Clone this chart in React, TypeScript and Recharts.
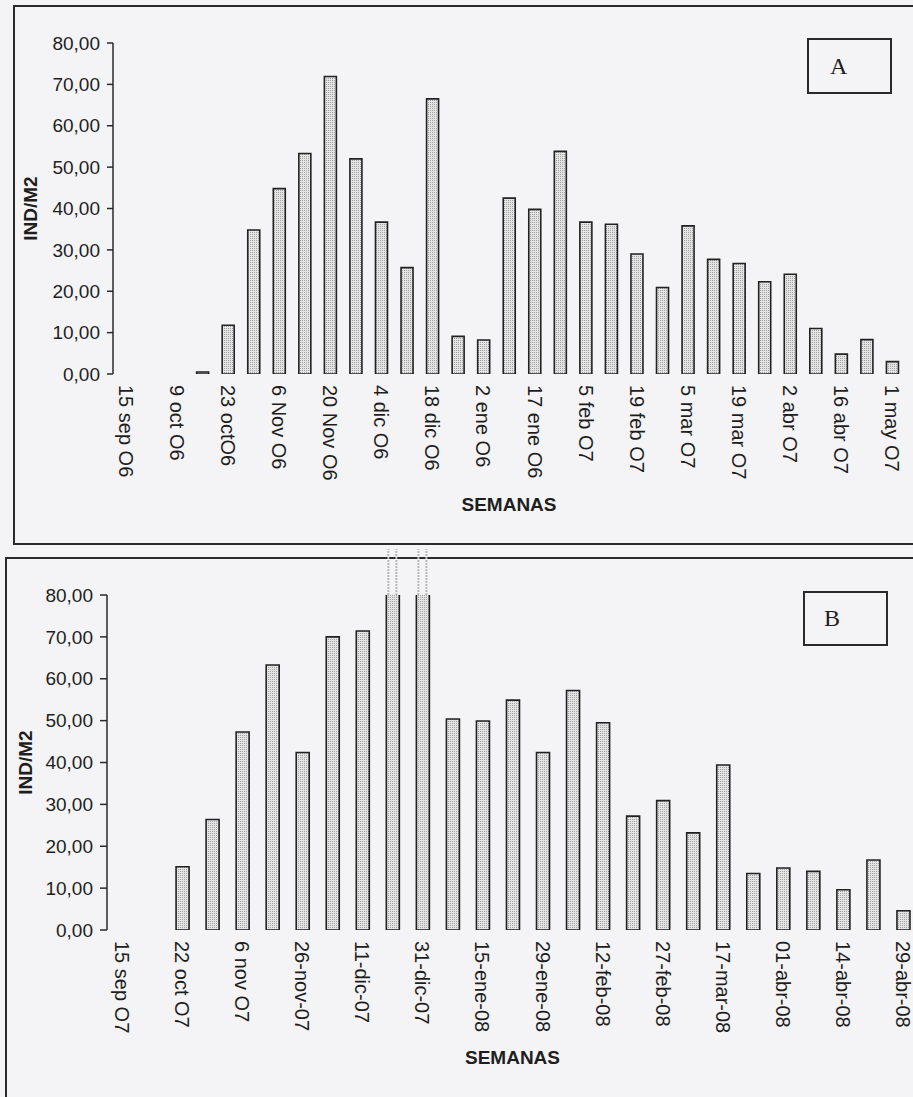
import React from 'react';
import { BarChart, Bar, XAxis, YAxis, ReferenceLine } from 'recharts';

// semanas muestreadas (solo se rotula una de cada dos)
const weeksA = [
  '15 sep O6', '', '9 oct O6', '', '23 octO6', '', '6 Nov O6', '', '20 Nov O6', '',
  '4 dic O6', '', '18 dic O6', '', '2 ene O6', '', '17 ene O6', '', '5 feb O7', '',
  '19 feb O7', '', '5 mar O7', '', '19 mar O7', '', '2 abr O7', '', '16 abr O7', '',
  '1 may O7',
];
const indA = [
  0, 0, 0, 0.5, 11.8, 34.8, 44.8, 53.3, 71.9, 52.0,
  36.7, 25.7, 66.5, 9.1, 8.2, 42.5, 39.8, 53.8, 36.7, 36.2,
  29.0, 20.9, 35.8, 27.7, 26.7, 22.3, 24.1, 11.0, 4.8, 8.3,
  3.0,
];

const weeksB = [
  '15 sep O7', '', '22 oct O7', '', '6 nov O7', '', '26-nov-07', '', '11-dic-07', '',
  '31-dic-07', '', '15-ene-08', '', '29-ene-08', '', '12-feb-08', '', '27-feb-08', '',
  '17-mar-08', '', '01-abr-08', '', '14-abr-08', '', '29-abr-08',
];
const indB = [
  0, 0, 15.1, 26.4, 47.3, 63.3, 42.4, 70.0, 71.4, 91,
  91, 50.4, 49.9, 54.9, 42.4, 57.2, 49.5, 27.2, 30.9, 23.2,
  39.4, 13.5, 14.8, 14.0, 9.6, 16.7, 4.6,
];
// barras que se salen de la escala en B
const clippedB = [9, 10];

const yTicks = [0, 10, 20, 30, 40, 50, 60, 70, 80];

const FONT = '"Liberation Sans", Arial, sans-serif';
const INK = '#1e1e1e';
const LINE = '#2a2a2a';

const fmt = (v: number) => v.toFixed(2).replace('.', ',');

const WeekTick = (props: any) => {
  const { x, y, payload, labels } = props;
  const t = labels[payload.value];
  if (!t) return null;
  return (
    <text
      x={x}
      y={y}
      dx={11}
      transform={`rotate(90 ${x} ${y})`}
      textAnchor="start"
      dominantBaseline="central"
      fontSize={20}
      fontFamily={FONT}
      fill={INK}
    >
      {t}
    </text>
  );
};

const yTitle = (cx: number) => (p: any) => {
  const vb = p.viewBox || {};
  const cy = vb.y + vb.height / 2;
  return (
    <text
      x={cx}
      y={cy}
      transform={`rotate(-90 ${cx} ${cy})`}
      textAnchor="middle"
      dominantBaseline="central"
      fontSize={19}
      fontWeight="bold"
      fontFamily={FONT}
      fill={INK}
    >
      IND/M2
    </text>
  );
};

// prolongacion de las barras cortadas por encima de 80
const OverflowTop = (p: any) => {
  const { x1, y1, x2, y2 } = p;
  return (
    <g>
      <line x1={x1 - 4} y1={y1} x2={x2 - 4} y2={y2} stroke="#b9b9b9" strokeWidth={2} strokeDasharray="2 1" />
      <line x1={x1 + 4} y1={y1} x2={x2 + 4} y2={y2} stroke="#b9b9b9" strokeWidth={2} strokeDasharray="2 1" />
    </g>
  );
};

type PanelProps = {
  labels: string[];
  values: number[];
  width: number;
  height: number;
  margin: { top: number; right: number; left: number; bottom: number };
  yWidth: number;
  xHeight: number;
  barSize: number;
  titleX: number;
  semanasOffset: number;
  tickSize: number;
  clipped?: number[];
};

function Panel(p: PanelProps) {
  const rows = p.values.map((v, i) => ({ n: i, ind: v }));
  const edges = [...p.labels.map((_, i) => i), p.labels.length];
  return (
    <BarChart width={p.width} height={p.height} data={rows} margin={p.margin}>
      <XAxis
        xAxisId="edge"
        type="number"
        domain={[0, p.labels.length]}
        ticks={edges}
        allowDataOverflow
        interval={0}
        tick={false}
        tickSize={6}
        height={0}
        stroke={LINE}
        strokeWidth={1.5}
      />
      <XAxis
        xAxisId="week"
        dataKey="n"
        type="category"
        interval={0}
        tickLine={false}
        axisLine={false}
        tickSize={0}
        tickMargin={0}
        height={p.xHeight}
        tick={(t: any) => <WeekTick {...t} labels={p.labels} />}
        label={{
          value: 'SEMANAS',
          position: 'insideBottom',
          offset: p.semanasOffset,
          fontSize: 19,
          fontWeight: 'bold',
          fontFamily: FONT,
          fill: INK,
        }}
      />
      <YAxis
        domain={[0, 80]}
        ticks={yTicks}
        allowDataOverflow
        interval={0}
        width={p.yWidth}
        tickSize={p.tickSize}
        tickMargin={7}
        tickFormatter={fmt}
        tick={{ fontSize: 19, fill: INK, fontFamily: FONT }}
        stroke={LINE}
        strokeWidth={1.5}
        label={{ content: yTitle(p.titleX) }}
      />
      <Bar
        xAxisId="week"
        dataKey="ind"
        barSize={p.barSize}
        fill="url(#stipple)"
        stroke="#222"
        strokeWidth={1.6}
        isAnimationActive={false}
      />
      {(p.clipped || []).map((i) => (
        <ReferenceLine
          key={i}
          xAxisId="week"
          segment={[{ x: i, y: 80 }, { x: i, y: p.values[i] }]}
          ifOverflow="visible"
          shape={OverflowTop}
        />
      ))}
    </BarChart>
  );
}

const boxStyle: React.CSSProperties = {
  position: 'absolute',
  boxSizing: 'border-box',
  border: `2px solid ${LINE}`,
  fontFamily: '"Liberation Serif", "Times New Roman", serif',
  fontSize: 24,
  color: INK,
};

export default function App() {
  return (
    <div
      style={{
        position: 'absolute',
        left: 0,
        top: 0,
        width: 913,
        height: 1097,
        overflow: 'hidden',
        background: '#f4f4f6',
        fontFamily: FONT,
      }}
    >
      <svg width={0} height={0} style={{ position: 'absolute' }}>
        <defs>
          <pattern id="stipple" width={2} height={2} patternUnits="userSpaceOnUse">
            <rect width={2} height={2} fill="#e4e4e4" />
            <rect width={1} height={1} fill="#a2a2a2" />
          </pattern>
        </defs>
      </svg>

      {/* marcos de los dos paneles */}
      <div style={{ position: 'absolute', boxSizing: 'border-box', left: 13, top: 5, width: 1000, height: 540, border: `2px solid ${LINE}` }} />
      <div style={{ position: 'absolute', boxSizing: 'border-box', left: 5, top: 557, width: 1000, height: 600, border: `2px solid ${LINE}` }} />

      <div style={{ position: 'absolute', left: 0, top: 0 }}>
        <Panel
          labels={weeksA}
          values={indA}
          width={913}
          height={545}
          margin={{ top: 43, right: 8, left: 0, bottom: 0 }}
          yWidth={113}
          xHeight={171}
          barSize={12}
          titleX={30}
          semanasOffset={34}
          tickSize={6}
        />
      </div>

      <div style={{ position: 'absolute', left: 0, top: 545 }}>
        <Panel
          labels={weeksB}
          values={indB}
          width={925}
          height={552}
          margin={{ top: 50, right: 7, left: 0, bottom: 0 }}
          yWidth={107}
          xHeight={167}
          barSize={13}
          titleX={25}
          semanasOffset={33}
          tickSize={7}
          clipped={clippedB}
        />
      </div>

      <div style={{ ...boxStyle, left: 807, top: 38, width: 85, height: 56, lineHeight: '52px', paddingLeft: 21 }}>A</div>
      <div style={{ ...boxStyle, left: 803, top: 591, width: 85, height: 55, lineHeight: '51px', paddingLeft: 19 }}>B</div>
    </div>
  );
}
